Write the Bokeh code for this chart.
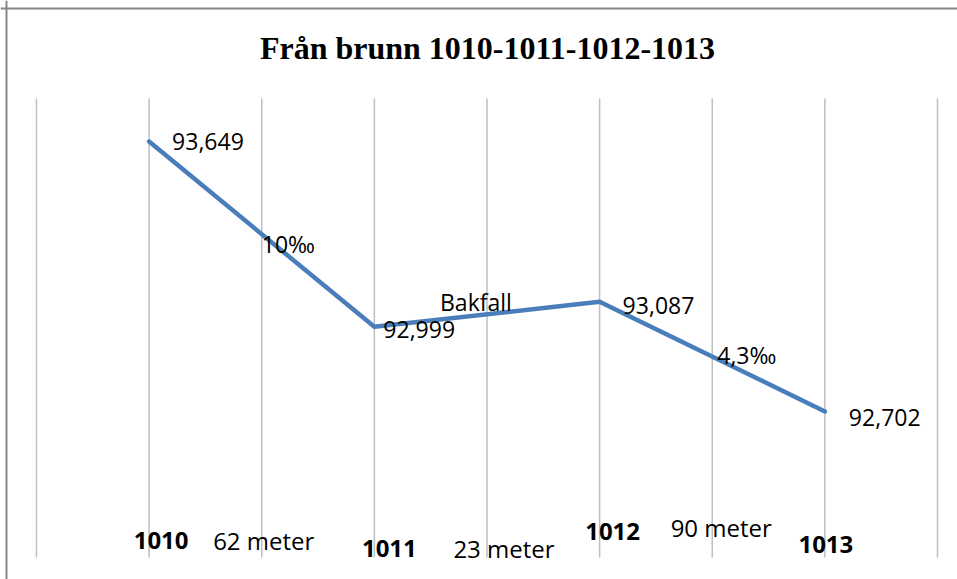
from bokeh.plotting import figure
from bokeh.models import Range1d, Label, ColumnDataSource, Span
from bokeh.core.properties import value
from bokeh.embed import file_html
from bokeh.resources import INLINE

# ---- data ----
titel = "Från brunn 1010-1011-1012-1013"
brunnar = ["1010", "1011", "1012", "1013"]
hojd = [93.649, 92.999, 93.087, 92.702]
hojd_text = ["93,649", "92,999", "93,087", "92,702"]
avstand = ["62 meter", "23 meter", "90 meter"]
lutning = ["10‰", "Bakfall", "4,3‰"]
grid_x = [0, 1, 2, 3, 4, 5, 6, 7, 8]
y_min, y_max = 92.19, 93.8

# category positions: wells on odd slots, spans between them
xb = [2 * i + 1 for i in range(len(brunnar))]
xs = [2 * i + 2 for i in range(len(avstand))]
mid = [(hojd[i] + hojd[i + 1]) / 2 for i in range(len(avstand))]

W, H = 957, 579
xr = Range1d(-0.3196, 8.1776)
yr = Range1d(92.1127, 94.1436)
p = figure(width=W, height=H, output_backend="svg", toolbar_location=None,
           x_range=xr, y_range=yr,
           min_border=0, min_border_left=0, min_border_right=0,
           min_border_top=0, min_border_bottom=0)
p.xaxis.visible = False
p.yaxis.visible = False
p.outline_line_color = None
p.xgrid.grid_line_color = None
p.ygrid.grid_line_color = None
p.background_fill_color = "white"
p.border_fill_color = "white"

# vertical gridlines between y_min and y_max
p.segment(x0=grid_x, y0=[y_min] * len(grid_x), x1=grid_x, y1=[y_max] * len(grid_x),
          line_color="#BFBFBF", line_width=1.5)

# chart border (left and top visible)
p.add_layout(Span(location=-0.2664, dimension="height", line_color="#878787", line_width=2))
p.add_layout(Span(location=94.1155, dimension="width", line_color="#878787", line_width=2))

p.line(xb, hojd, line_color="#4A7EBB", line_width=4.5, line_join="round", line_cap="round")

F = value("Open Sans")

# value labels
src_v = ColumnDataSource(dict(x=xb, y=hojd, t=hojd_text,
                              dx=[23, 9, 23, 24], dy=[0, 3, 4, 6]))
p.text(x="x", y="y", text="t", x_offset="dx", y_offset="dy", source=src_v,
       text_font=F, text_font_size="23px", text_color="black",
       text_align="left", text_baseline="alphabetic")

# slope labels
src_s = ColumnDataSource(dict(x=xs, y=mid, t=lutning,
                              dx=[0, -47, 5], dy=[10, -12, -2]))
p.text(x="x", y="y", text="t", x_offset="dx", y_offset="dy", source=src_s,
       text_font=F, text_font_size="23px", text_color="black",
       text_align="left", text_baseline="alphabetic")

# bottom labels: wells (bold) and distances
src_b = ColumnDataSource(dict(x=xb, y=[y_min] * len(xb), t=brunnar,
                              dx=[12, 15, 13, 1], dy=[-17, -9, -26, -13]))
p.text(x="x", y="y", text="t", x_offset="dx", y_offset="dy", source=src_b,
       text_font=F, text_font_size="24px", text_font_style="bold", text_color="black",
       text_align="center", text_baseline="alphabetic")
src_d = ColumnDataSource(dict(x=xs, y=[y_min] * len(xs), t=avstand,
                              dx=[2, 17, 9], dy=[-17, -9, -30]))
p.text(x="x", y="y", text="t", x_offset="dx", y_offset="dy", source=src_d,
       text_font=F, text_font_size="24px", text_color="black",
       text_align="center", text_baseline="alphabetic")

# title
p.add_layout(Label(x=487, y=H - 47, x_units="screen", y_units="screen", text=titel,
                   text_font="Liberation Serif", text_font_style="bold",
                   text_font_size="32px", text_color="black",
                   text_align="center", text_baseline="alphabetic"))

open("out.html", "w").write(file_html(p, INLINE))
